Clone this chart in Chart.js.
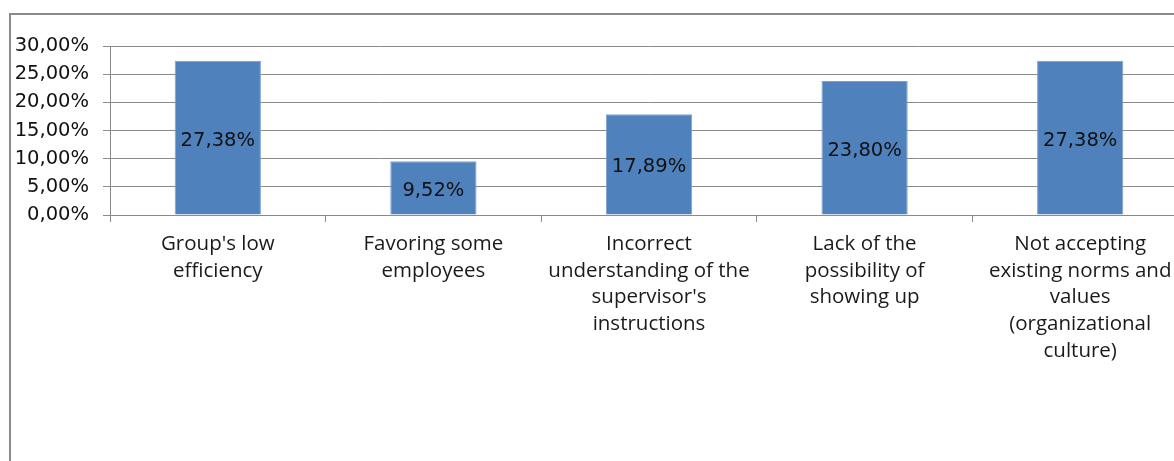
<!DOCTYPE html>
<html>
<head>
<meta charset="utf-8">
<script src="https://cdn.jsdelivr.net/npm/chart.js@4/dist/chart.umd.min.js"></script>
<style>
  html, body { margin: 0; padding: 0; background: #fff; overflow: hidden; width: 1174px; height: 461px; }
  #wrap { position: absolute; left: 0; top: 0; width: 1200px; height: 461px; }
  #frame { position: absolute; left: 9px; top: 13px; width: 1400px; height: 800px;
           border: 2px solid #8a8a8a; pointer-events: none; }
</style>
</head>
<body>
<div id="wrap"><canvas id="c" width="1200" height="461"></canvas></div>
<div id="frame"></div>
<script>
// Categories (multi-line labels) and their shares in percent
const categories = [
  ["Group's low", "efficiency"],
  ["Favoring some", "employees"],
  ["Incorrect", "understanding of the", "supervisor's", "instructions"],
  ["Lack of the", "possibility of", "showing up"],
  ["Not accepting", "existing norms and", "values", "(organizational", "culture)"]
];
const shares = [27.38, 9.52, 17.89, 23.80, 27.38];
const yTickValues = [0, 5, 10, 15, 20, 25, 30];

const pct = v => v.toFixed(2).replace('.', ',') + '%';

// Writes each bar's value in the middle of the bar
const barValueLabels = {
  id: 'barValueLabels',
  afterDatasetsDraw(chart) {
    const ctx = chart.ctx;
    const meta = chart.getDatasetMeta(0);
    ctx.save();
    ctx.font = '19.5px "DejaVu Sans", Verdana, sans-serif';
    ctx.fillStyle = '#111';
    ctx.textAlign = 'center';
    ctx.textBaseline = 'middle';
    meta.data.forEach((bar, i) => {
      const cy = (bar.y + bar.base) / 2 + 3;
      ctx.fillText(pct(shares[i]), bar.x, cy);
    });
    ctx.restore();
  }
};

new Chart(document.getElementById('c'), {
  type: 'bar',
  data: {
    labels: categories,
    datasets: [{
      data: shares,
      backgroundColor: '#4F81BD',
      borderColor: '#7c9fd0',
      borderWidth: 1,
      categoryPercentage: 1.0,
      barPercentage: 0.4
    }]
  },
  options: {
    responsive: false,
    animation: false,
    layout: { padding: { top: 46, left: 0, right: 12, bottom: 0 } },
    plugins: { legend: { display: false }, tooltip: { enabled: false } },
    scales: {
      x: {
        grid: { offset: true, drawOnChartArea: false, drawTicks: true, tickLength: 7, color: '#8a8a8a' },
        border: { color: '#8a8a8a', width: 1 },
        ticks: {
          color: '#1a1a1a',
          padding: 9,
          maxRotation: 0,
          autoSkip: false,
          font: { family: '"Open Sans", Lato, sans-serif', size: 20.5, lineHeight: 1.3 }
        },
        afterFit(scale) { scale.height = 246; }
      },
      y: {
        min: 0,
        max: 30,
        afterBuildTicks(scale) { scale.ticks = yTickValues.map(v => ({ value: v })); },
        grid: { color: '#8a8a8a', tickLength: 7, drawTicks: true },
        border: { color: '#8a8a8a', width: 1 },
        ticks: {
          color: '#111',
          padding: 14,
          font: { family: '"DejaVu Sans", Verdana, sans-serif', size: 19.5 },
          callback: v => pct(v)
        },
        afterFit(scale) { scale.width = 110; }
      }
    }
  },
  plugins: [barValueLabels]
});
</script>
</body>
</html>
